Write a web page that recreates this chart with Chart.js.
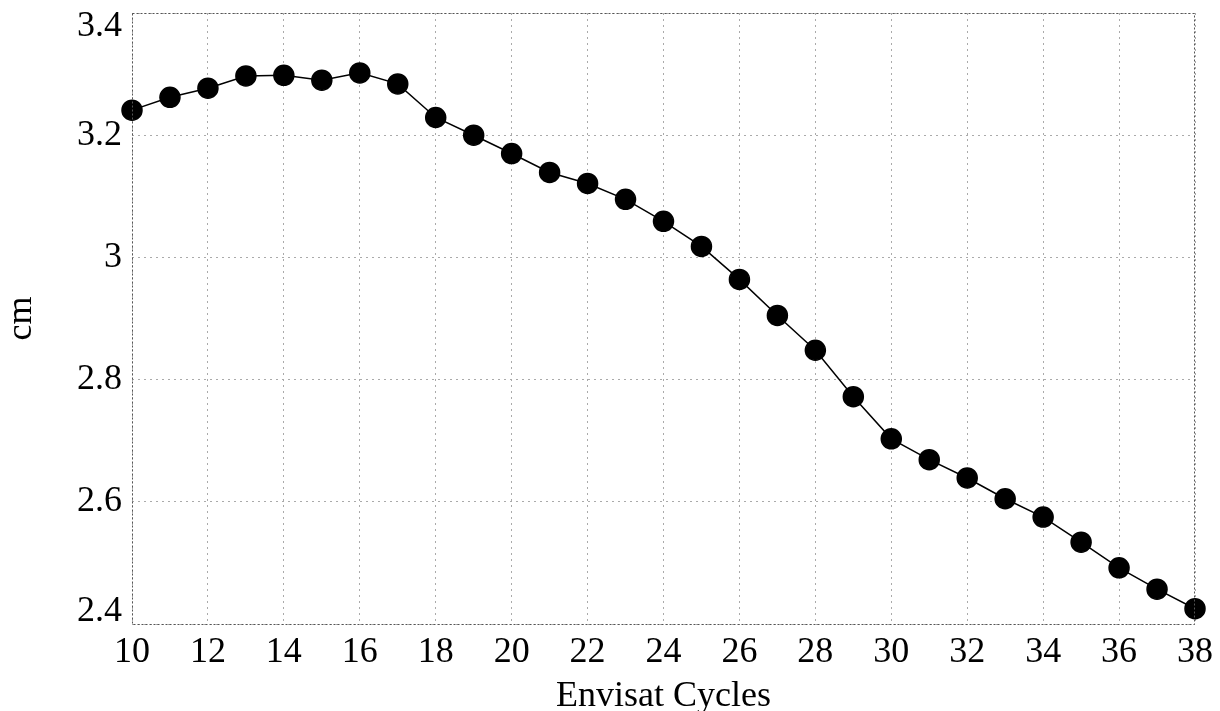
<!DOCTYPE html>
<html>
<head>
<meta charset="utf-8">
<script src="https://cdn.jsdelivr.net/npm/chart.js@4"></script>
<style>
  html, body { margin: 0; padding: 0; background: #fff; }
  #wrap { width: 1220px; height: 711px; }
</style>
</head>
<body>
<div id="wrap"><canvas id="cycleChart" width="1220" height="711"></canvas></div>
<script>
// Envisat cycles vs value (cm)
const cycles = [10, 11, 12, 13, 14, 15, 16, 17, 18, 19, 20, 21, 22, 23, 24, 25, 26, 27, 28, 29, 30, 31, 32, 33, 34, 35, 36, 37, 38];
const values = [3.241, 3.262, 3.277, 3.297, 3.298, 3.290, 3.302, 3.284, 3.229, 3.200, 3.170, 3.139, 3.121, 3.095, 3.059, 3.018, 2.964, 2.905, 2.848, 2.772, 2.703, 2.669, 2.639, 2.605, 2.575, 2.534, 2.492, 2.457, 2.425];
const yTicks = [2.4, 2.6, 2.8, 3, 3.2, 3.4];

const serif = "'Liberation Serif', 'DejaVu Serif', serif";

// frame + y tick labels kept inside the plot height
const framePlugin = {
  id: "frame",
  afterDraw(chart) {
    const { ctx, chartArea: a, scales } = chart;
    ctx.save();
    ctx.strokeStyle = "#555";
    ctx.lineWidth = 1;
    ctx.setLineDash([2, 2]);
    ctx.strokeRect(a.left + 0.5, a.top + 0.5, a.right - a.left - 1, a.bottom - a.top);
    ctx.setLineDash([]);
    ctx.fillStyle = "#000";
    ctx.font = "36px " + serif;
    ctx.textAlign = "right";
    ctx.textBaseline = "middle";
    yTicks.forEach((v) => {
      let y = scales.y.getPixelForValue(v);
      y = Math.max(a.top + 14, Math.min(a.bottom - 12, y));
      ctx.fillText(String(v), a.left - 10, y);
    });
    ctx.restore();
  },
};

const ctx = document.getElementById("cycleChart").getContext("2d");
new Chart(ctx, {
  type: "line",
  data: {
    datasets: [
      {
        data: cycles.map((c, i) => ({ x: c, y: values[i] })),
        borderColor: "#000",
        borderWidth: 1.5,
        pointBackgroundColor: "#000",
        pointBorderColor: "#000",
        pointRadius: 10,
        tension: 0,
        clip: false,
      },
    ],
  },
  options: {
    responsive: false,
    animation: false,
    layout: { padding: { top: 13, right: 22, left: 0, bottom: 0 } },
    plugins: { legend: { display: false }, tooltip: { enabled: false } },
    scales: {
      x: {
        type: "linear",
        min: 10,
        max: 38,
        ticks: {
          stepSize: 2,
          color: "#000",
          padding: 7,
          font: { family: serif, size: 36 },
          maxRotation: 0,
        },
        grid: { color: "#aaa", tickLength: 0, lineWidth: 1 },
        border: { display: false, dash: [2, 4] },
        title: {
          display: true,
          text: "Envisat Cycles",
          color: "#000",
          font: { family: serif, size: 36, lineHeight: 0.8 },
          padding: { top: 0, bottom: 0 },
        },
        afterFit(scale) { scale.height = 87; },
      },
      y: {
        min: 2.4,
        max: 3.4,
        afterBuildTicks(scale) { scale.ticks = yTicks.map((v) => ({ value: v })); },
        ticks: { display: false },
        grid: { color: "#aaa", tickLength: 0, lineWidth: 1 },
        border: { display: false, dash: [2, 4] },
        title: {
          display: true,
          text: "cm",
          color: "#000",
          font: { family: serif, size: 36 },
          padding: { top: 0, bottom: 0 },
        },
        afterFit(scale) { scale.width = 132; },
      },
    },
  },
  plugins: [framePlugin],
});
</script>
</body>
</html>
